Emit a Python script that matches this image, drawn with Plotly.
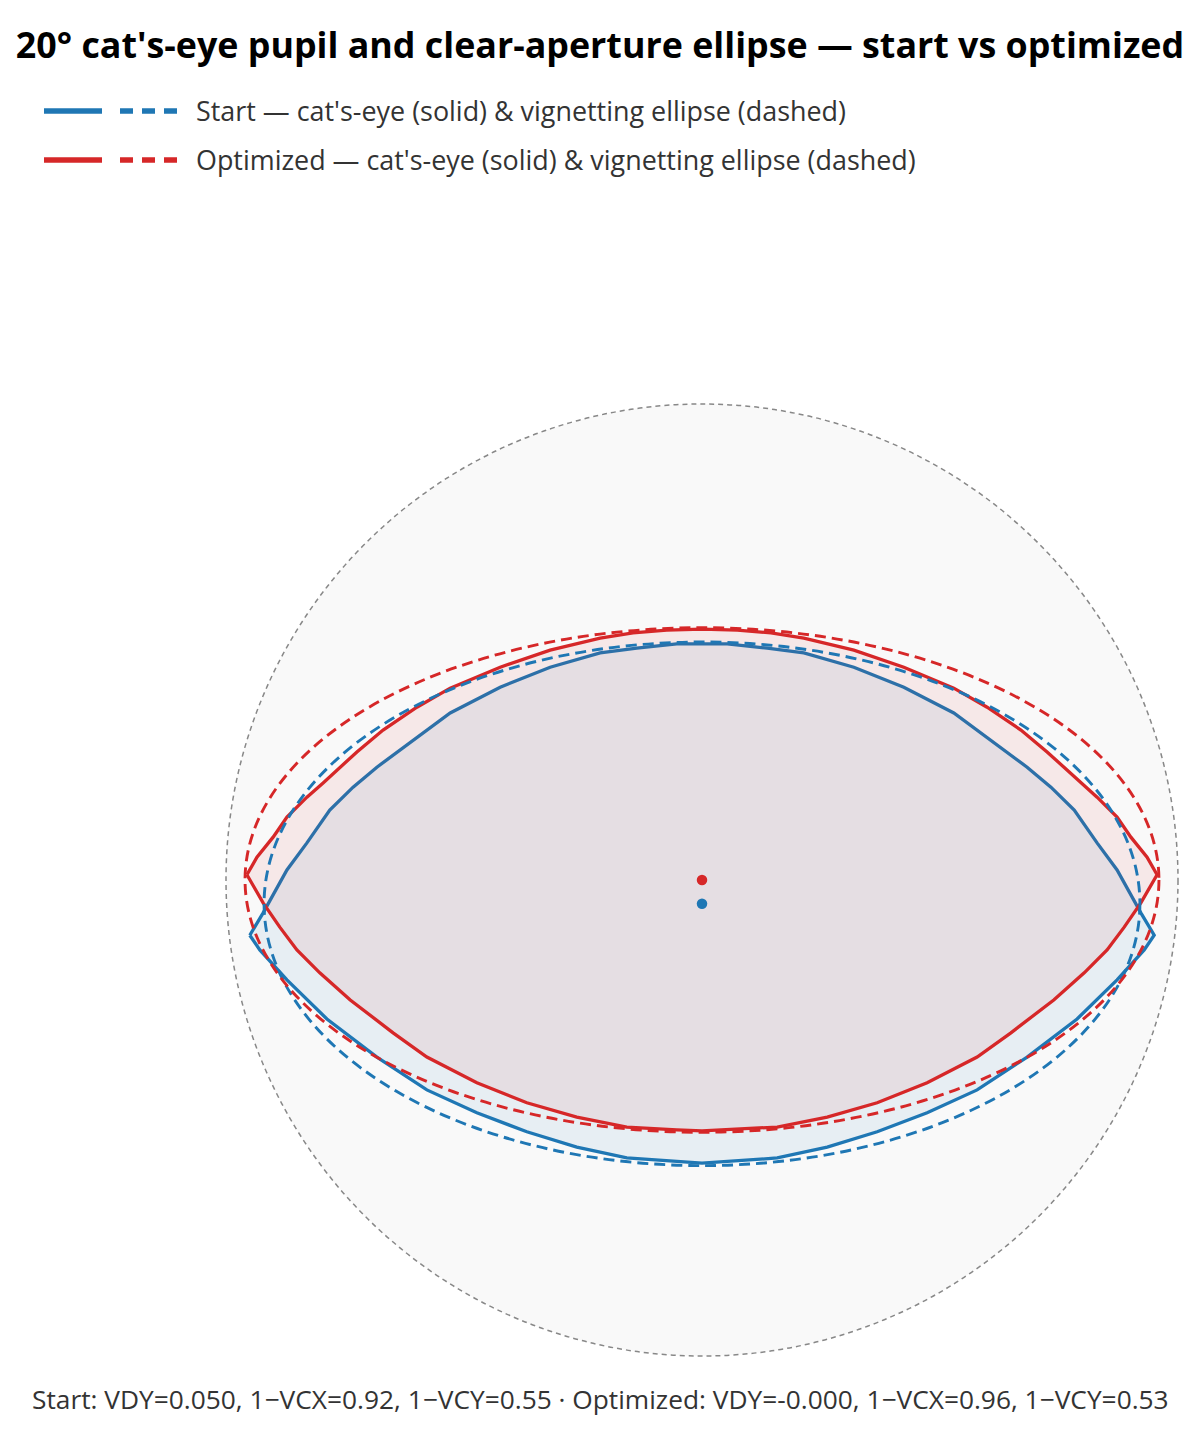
import plotly.graph_objects as go

# ---------------- data ----------------
start_upper_x = [-0.950, -0.922, -0.872, -0.830, -0.782, -0.733, -0.683, -0.613, -0.529, -0.424, -0.319, -0.214, -0.137, -0.053, 0.0,
                 0.053, 0.137, 0.214, 0.319, 0.424, 0.529, 0.613, 0.683, 0.733, 0.782, 0.830, 0.872, 0.922, 0.950]
start_upper_y = [-0.116, -0.069, 0.021, 0.078, 0.147, 0.195, 0.237, 0.288, 0.351, 0.405, 0.447, 0.477, 0.487, 0.496, 0.496,
                 0.496, 0.487, 0.477, 0.447, 0.405, 0.351, 0.288, 0.237, 0.195, 0.147, 0.078, 0.021, -0.069, -0.116]
start_lower_x = [-0.950, -0.929, -0.872, -0.788, -0.683, -0.578, -0.473, -0.368, -0.263, -0.158, 0.0,
                 0.158, 0.263, 0.368, 0.473, 0.578, 0.683, 0.788, 0.872, 0.929, 0.950]
start_lower_y = [-0.116, -0.147, -0.210, -0.292, -0.372, -0.441, -0.489, -0.529, -0.561, -0.584, -0.595,
                 -0.584, -0.561, -0.529, -0.489, -0.441, -0.372, -0.292, -0.210, -0.147, -0.116]

opt_upper_x = [-0.956, -0.935, -0.901, -0.872, -0.830, -0.796, -0.725, -0.670, -0.599, -0.529, -0.424, -0.319, -0.214, -0.145, -0.074, 0.0,
               0.074, 0.145, 0.214, 0.319, 0.424, 0.529, 0.599, 0.670, 0.725, 0.796, 0.830, 0.872, 0.901, 0.935, 0.956]
opt_upper_y = [0.011, 0.048, 0.090, 0.132, 0.174, 0.204, 0.269, 0.315, 0.363, 0.403, 0.447, 0.483, 0.508, 0.519, 0.525, 0.527,
               0.525, 0.519, 0.508, 0.483, 0.447, 0.403, 0.363, 0.315, 0.269, 0.204, 0.174, 0.132, 0.090, 0.048, 0.011]
opt_lower_x = [-0.956, -0.922, -0.887, -0.851, -0.803, -0.739, -0.649, -0.578, -0.473, -0.368, -0.263, -0.158, -0.053, 0.0,
               0.053, 0.158, 0.263, 0.368, 0.473, 0.578, 0.649, 0.739, 0.803, 0.851, 0.887, 0.922, 0.956]
opt_lower_y = [0.011, -0.048, -0.099, -0.147, -0.195, -0.252, -0.321, -0.372, -0.426, -0.468, -0.498, -0.519, -0.525, -0.527,
               -0.525, -0.519, -0.498, -0.468, -0.426, -0.372, -0.321, -0.252, -0.195, -0.147, -0.099, -0.048, 0.011]

# vignetting factors
start_vdy, start_cx, start_cy = 0.050, 0.92, 0.55
opt_vdy, opt_cx, opt_cy = -0.0, 0.96, 0.53

series_names = ["Start", "Optimized"]

# ---------------- styling ----------------
BLUE = "#1f77b4"
RED = "#d62728"
BLUE_FILL = "rgba(31,119,180,0.08)"
RED_FILL = "rgba(214,39,40,0.08)"
W, H = 1200, 1440
OFF = 8  # page body margin offset in the screenshot

fig = go.Figure()

def closed(ux, uy, lx, ly):
    return list(ux) + list(reversed(lx)), list(uy) + list(reversed(ly))

sx, sy = closed(start_upper_x, start_upper_y, start_lower_x, start_lower_y)
ox, oy = closed(opt_upper_x, opt_upper_y, opt_lower_x, opt_lower_y)

fig.add_trace(go.Scatter(x=sx, y=sy, mode="lines", fill="toself", fillcolor=BLUE_FILL,
                         line=dict(color=BLUE, width=3.3), showlegend=False, hoverinfo="skip"))
fig.add_trace(go.Scatter(x=ox, y=oy, mode="lines", fill="toself", fillcolor=RED_FILL,
                         line=dict(color=RED, width=3.3), showlegend=False, hoverinfo="skip"))

# centroid dots
fig.add_trace(go.Scatter(x=[0.0], y=[-start_vdy], mode="markers",
                         marker=dict(color=BLUE, size=10.5), showlegend=False, hoverinfo="skip"))
fig.add_trace(go.Scatter(x=[0.0], y=[-opt_vdy], mode="markers",
                         marker=dict(color=RED, size=10.5), showlegend=False, hoverinfo="skip"))

shapes = []
# unit pupil circle
shapes.append(dict(type="circle", xref="x", yref="y", x0=-1, x1=1, y0=-1, y1=1,
                   fillcolor="#f9f9f9", line=dict(color="#888888", width=1.5, dash="5px,4px"),
                   layer="below"))
# vignetting ellipses
for vdy, cx, cy, col in [(start_vdy, start_cx, start_cy, BLUE), (opt_vdy, opt_cx, opt_cy, RED)]:
    shapes.append(dict(type="circle", xref="x", yref="y", x0=-cx, x1=cx, y0=-vdy - cy, y1=-vdy + cy,
                       line=dict(color=col, width=2.9, dash="11px,6px"), layer="above"))

def px_x(p):
    return (p - OFF) / W

def px_y(p):
    return 1 - (p - OFF) / H

# manual legend
annotations = []
legend_rows = [(111, BLUE, "Start — cat's-eye (solid) & vignetting ellipse (dashed)"),
               (160, RED, "Optimized — cat's-eye (solid) & vignetting ellipse (dashed)")]
for py, col, txt in legend_rows:
    yp = px_y(py)
    shapes.append(dict(type="line", xref="paper", yref="paper", x0=px_x(44), x1=px_x(102), y0=yp, y1=yp,
                       line=dict(color=col, width=5.5)))
    shapes.append(dict(type="line", xref="paper", yref="paper", x0=px_x(120), x1=px_x(178), y0=yp, y1=yp,
                       line=dict(color=col, width=5.5, dash="13px,9px")))
    annotations.append(dict(xref="paper", yref="paper", x=px_x(194), y=yp, text=txt, showarrow=False,
                            xanchor="left", yanchor="middle",
                            font=dict(family="Open Sans", size=26.9, color="#333333")))

foot = (f"{series_names[0]}: VDY={start_vdy:.3f}, 1\u2212VCX={start_cx:.2f}, 1\u2212VCY={start_cy:.2f} \u00b7 "
        f"{series_names[1]}: VDY={opt_vdy:.3f}, 1\u2212VCX={opt_cx:.2f}, 1\u2212VCY={opt_cy:.2f}")
annotations.append(dict(xref="paper", yref="paper", x=px_x(600), y=px_y(1399), text=foot, showarrow=False,
                        xanchor="center", yanchor="middle",
                        font=dict(family="Open Sans", size=26.3, color="#333333")))

# axes: 476 px per unit, pupil centre at (702, 880) px in the screenshot
PX = 476.0
CX, CY = 702.0 - OFF, 880.0 - OFF
fig.update_layout(
    width=W, height=H,
    margin=dict(l=0, r=0, t=0, b=0),
    paper_bgcolor="white", plot_bgcolor="white",
    title=dict(text="<b>20° cat's-eye pupil and clear-aperture ellipse — start vs optimized</b>",
               x=px_x(600), xanchor="center", y=px_y(45), yanchor="middle",
               font=dict(family="Open Sans", size=35.8, color="#000000")),
    xaxis=dict(range=[-CX / PX, (W - CX) / PX], visible=False, fixedrange=True),
    yaxis=dict(range=[-(H - CY) / PX, CY / PX], visible=False, fixedrange=True),
    shapes=shapes, annotations=annotations, showlegend=False,
)

fig.write_html("out.html")
